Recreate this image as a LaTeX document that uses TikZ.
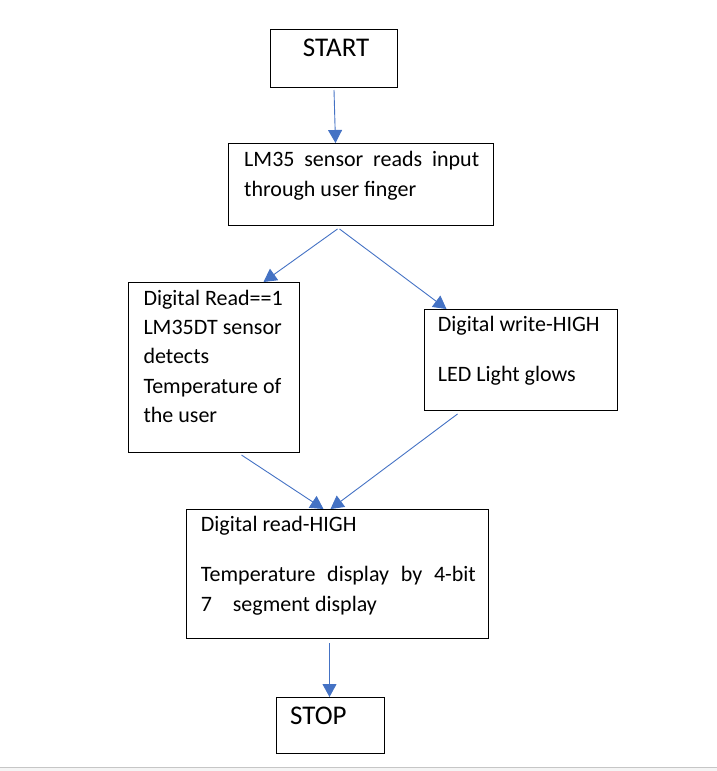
\documentclass[tikz,border=0pt]{standalone}
\usepackage{fontspec}
\setmainfont{Carlito}
\usepackage{tikz}
\usetikzlibrary{calc,arrows.meta}
\definecolor{arrowblue}{HTML}{4472C4}

\begin{document}
\begin{tikzpicture}[x=1pt, y=-1pt,
    box/.style={draw, line width=1pt, inner sep=0pt, anchor=north west},
    txt/.style={inner sep=0pt, anchor=north west, font=\fontsize{22}{29.3}\selectfont},
    bigtxt/.style={inner sep=0pt, anchor=base west, font=\fontsize{27}{32}\selectfont},
    flow/.style={arrowblue, line width=0.9pt, -{Triangle[length=13pt,width=14pt]}}]
  \useasboundingbox (0,0) rectangle (717,771);
  \fill[gray!8] (0,767) rectangle (717,771);
  \draw[gray!45, line width=1pt] (0,767) -- (717,767);

  % boxes
  \node[box, minimum width=127pt, minimum height=58pt] (start) at (270,29) {};
  \node[box, minimum width=265pt, minimum height=82pt] (lm) at (228,143) {};
  \node[box, minimum width=171pt, minimum height=170pt] (left) at (128,282) {};
  \node[box, minimum width=193pt, minimum height=101pt] (right) at (424,309) {};
  \node[box, minimum width=302pt, minimum height=129pt] (bot) at (186,509) {};
  \node[box, minimum width=108pt, minimum height=56pt] (stop) at (276,697) {};

  % texts
  \node[bigtxt] (startT) at (302.7,56) {START};
  \node[txt, text width=235pt, align=justify] (lmT) at (244,146.2)
    {\strut LM35 sensor reads input\linebreak through user finger};
  \node[txt, align=left] (leftT) at (143.3,284.5)
    {\strut Digital Read==1\\LM35DT sensor\\detects\\Temperature of\\the user};
  \node[txt, align=left] (rightT) at (437.7,311.2)
    {\strut Digital write-HIGH\\[20pt]LED Light glows};
  \node[txt, text width=275pt, align=justify] (botT) at (200.7,511.2)
    {\strut Digital read-HIGH\\[20.7pt]Temperature display by 4-bit\linebreak
     \makebox[32pt][l]{7}segment display};
  \node[bigtxt] (stopT) at (290,724) {STOP};

  % connectors
  \draw[flow] ([yshift=-2pt]start.south) -- ([xshift=-25.5pt]lm.north);
  \draw[flow] ([xshift=-23.5pt,yshift=-3pt]lm.south) -- ([xshift=49.5pt]left.north);
  \draw[flow] ([xshift=-21.5pt,yshift=-3pt]lm.south) -- ([xshift=-74.5pt]right.north);
  \draw[flow] ([xshift=27.5pt,yshift=-2pt]left.south) -- ([xshift=-14pt]bot.north);
  \draw[flow] ([xshift=-63.5pt,yshift=-3pt]right.south) -- ([xshift=-7pt]bot.north);
  \draw[flow] ([xshift=-8pt,yshift=-4pt]bot.south) -- ([xshift=-1pt]stop.north);
\end{tikzpicture}
\end{document}
